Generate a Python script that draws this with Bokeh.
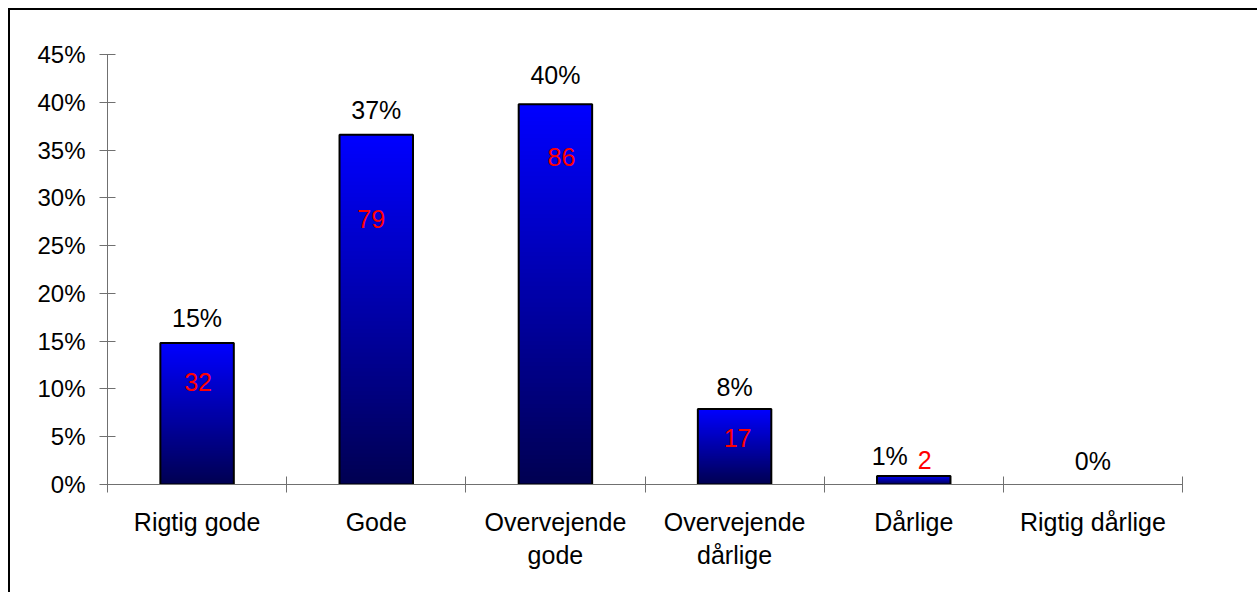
from bokeh.plotting import figure
from bokeh.models import Range1d, FixedTicker, PrintfTickFormatter, ColumnDataSource
from bokeh.embed import file_html
from bokeh.resources import INLINE
from bokeh.core.properties import value

# ---- data ----
categories = ["Rigtig gode", "Gode", "Overvejende\ngode", "Overvejende\ndårlige", "Dårlige", "Rigtig dårlige"]
percent = [14.8, 36.6, 39.8, 7.9, 0.9, 0.0]
counts = [32, 79, 86, 17, 2, 0]
percent_labels = ["15%", "37%", "40%", "8%", "1%", "0%"]
count_labels = ["32", "79", "86", "17", "2", ""]
y_ticks = [0, 5, 10, 15, 20, 25, 30, 35, 40, 45]

# ---- label placement (pixels), style ----
pct_dy = [25, 25, 29, 22, 20, 24]
pct_dx = [0, 0, 0, 0, -24, 0]
cnt_dy = [39, 84, 53, 29, -16, 0]
cnt_dx = [1, -5, 6, 3, 11, 0]
FONT = "Liberation Sans"
BAR_W = 0.41

n = len(categories)
p = figure(width=1249, height=584, output_backend="svg", toolbar_location=None,
           x_range=Range1d(0, n), y_range=Range1d(0, 45),
           min_border_left=97, min_border_right=77, min_border_top=44, min_border_bottom=110)
p.styles = {"margin-left": "8px", "margin-top": "8px",
            "border-left": "2px solid black", "border-top": "2px solid black"}
p.xgrid.visible = False
p.ygrid.visible = False
p.outline_line_color = None
p.background_fill_color = "white"
p.border_fill_color = "white"

AX = "#707070"
# y axis
ya = p.yaxis[0]
ya.ticker = FixedTicker(ticks=y_ticks, minor_ticks=[])
ya.formatter = PrintfTickFormatter(format="%d%%")
ya.major_tick_in = 8
ya.major_tick_out = 8
ya.minor_tick_in = 0
ya.minor_tick_out = 0
ya.axis_line_color = AX
ya.major_tick_line_color = AX
ya.major_label_text_font = FONT
ya.major_label_text_font_size = "24px"
ya.major_label_text_color = "black"
ya.major_label_standoff = 14

# x axis
xa = p.xaxis[0]
centers = [i + 0.5 for i in range(n)]
xa.ticker = FixedTicker(ticks=centers, minor_ticks=list(range(n + 1)))
xa.major_label_overrides = {c: lab for c, lab in zip(centers, categories)}
xa.major_tick_in = 0
xa.major_tick_out = 0
xa.minor_tick_in = 8
xa.minor_tick_out = 8
xa.axis_line_color = AX
xa.minor_tick_line_color = AX
xa.major_label_text_font = FONT
xa.major_label_text_font_size = "25px"
xa.major_label_text_color = "black"
xa.major_label_standoff = 15

# gradient bars (nested quads, bright blue top -> navy bottom)
N = 90
L, R, T, B, C = [], [], [], [], []
for i, v in enumerate(percent):
    if v <= 0:
        continue
    for k in range(N):
        f = 1 - k / N
        b = int(round(80 + (255 - 80) * f))
        L.append(centers[i] - BAR_W / 2)
        R.append(centers[i] + BAR_W / 2)
        T.append(v * f)
        B.append(0)
        C.append("#%02x%02x%02x" % (0, 0, b))
p.quad(left=L, right=R, top=T, bottom=B, fill_color=C, line_color=None)

bx = [c for c, v in zip(centers, percent) if v > 0]
bv = [v for v in percent if v > 0]
p.quad(left=[x - BAR_W / 2 for x in bx], right=[x + BAR_W / 2 for x in bx],
       top=bv, bottom=[0] * len(bv), fill_color=None, line_color="black", line_width=2)

# percentage labels
src_p = ColumnDataSource(dict(x=centers, y=percent, t=percent_labels,
                              dx=pct_dx, dy=[-d for d in pct_dy]))
p.text(x="x", y="y", text="t", x_offset="dx", y_offset="dy", source=src_p,
       text_font=value(FONT), text_font_size="25px", text_color="black",
       text_align="center", text_baseline="alphabetic")

# count labels
idx = [i for i in range(n) if count_labels[i]]
src_c = ColumnDataSource(dict(x=[centers[i] for i in idx], y=[percent[i] for i in idx],
                              t=[count_labels[i] for i in idx],
                              dx=[cnt_dx[i] for i in idx], dy=[cnt_dy[i] for i in idx]))
p.text(x="x", y="y", text="t", x_offset="dx", y_offset="dy", source=src_c,
       text_font=value(FONT), text_font_size="25px", text_color="#ff0000",
       text_align="center", text_baseline="alphabetic")

open("out.html", "w").write(file_html(p, INLINE))
